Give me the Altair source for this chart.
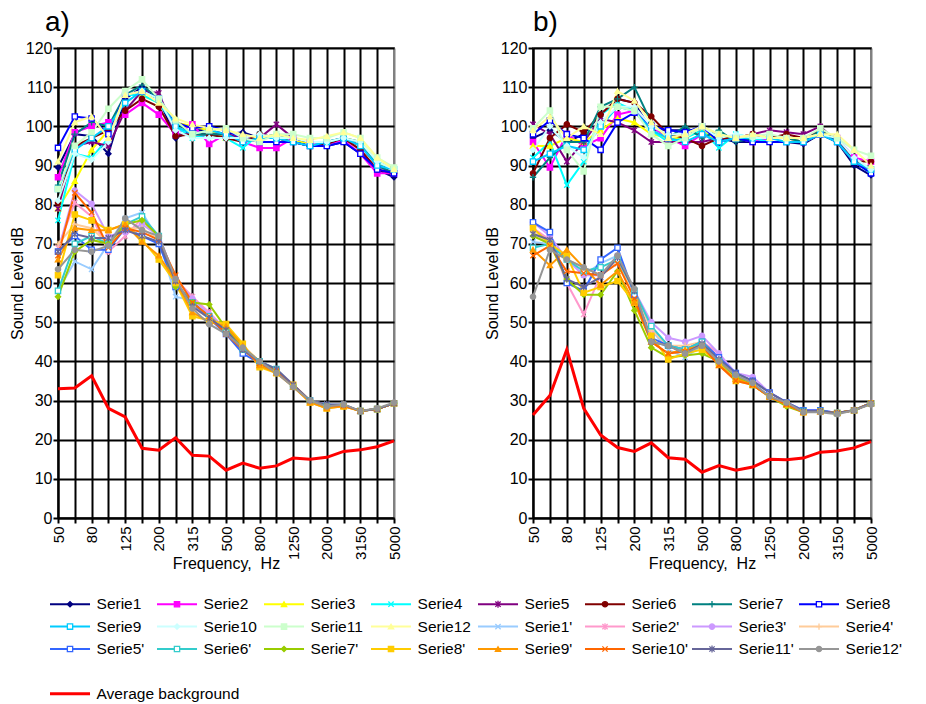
import altair as alt
import pandas as pd

FREQ_LABELS = ["50", "63", "80", "100", "125", "160", "200", "250", "315", "400", "500",
               "630", "800", "1000", "1250", "1600", "2000", "2500", "3150", "4000", "5000"]

SERIES = ["Serie1", "Serie2", "Serie3", "Serie4", "Serie5", "Serie6", "Serie7", "Serie8",
          "Serie9", "Serie10", "Serie11", "Serie12",
          "Serie1'", "Serie2'", "Serie3'", "Serie4'", "Serie5'", "Serie6'", "Serie7'", "Serie8'",
          "Serie9'", "Serie10'", "Serie11'", "Serie12'"]
BG_NAME = "Average background"

COLORS = ["#000080", "#FF00FF", "#FFFF00", "#00FFFF", "#800080", "#800000", "#008080", "#0000FF",
          "#00CCFF", "#CCFFFF", "#CCFFCC", "#FFFF99",
          "#99CCFF", "#FF99CC", "#CC99FF", "#FFCC99", "#3366FF", "#33CCCC", "#99CC00", "#FFCC00",
          "#FF9900", "#FF6600", "#666699", "#969696"]
BG_COLOR = "#FF0000"

XPATH = "M-1,-1L1,1M-1,1L1,-1"
ASTER = "M-1,-1L1,1M-1,1L1,-1M0,-1.3L0,1.3"
PLUS = "M-1.2,0L1.2,0M0,-1.2L0,1.2"
SHAPES = ["diamond", "square", "triangle-up", XPATH, ASTER, "circle", PLUS, "square",
          "square", "diamond", "square", "triangle-up",
          XPATH, ASTER, "circle", PLUS, "square", "square", "diamond", "square",
          "triangle-up", XPATH, ASTER, "circle"]
OPEN = {"Serie8", "Serie9", "Serie5'", "Serie6'"}
FILLS = ["#FFFFFF" if s in OPEN else c for s, c in zip(SERIES, COLORS)]

# ---------------- panel a) ----------------
A_UPPER = {
    "Serie1":  [89.5, 98, 97.5, 93, 107, 110, 107, 97, 99, 99, 98, 98.5, 97, 97, 96, 95, 95, 96, 93, 89, 87],
    "Serie2":  [87, 98.5, 100, 101, 103, 106, 103, 98, 100.5, 95.5, 98, 96, 94.5, 94.5, 97, 96, 95.5, 96.5, 93, 88, 88],
    "Serie3":  [79, 86, 94, 99, 108, 108, 106, 101, 100, 99, 97, 97, 96, 96, 96, 96, 96, 97, 96, 91, 89],
    "Serie4":  [76, 93, 92, 97, 108, 108, 106, 100, 97, 98, 97, 94.5, 98, 97, 96, 95, 96, 97, 95, 91, 89],
    "Serie5":  [79, 95, 96, 95, 104, 109, 108.5, 98, 98, 98, 98, 97, 97, 100.5, 97, 96, 96, 97, 95, 90, 88],
    "Serie6":  [80.5, 95, 97, 99, 104, 107, 105, 97.5, 98, 98, 97, 96, 98, 97, 96, 95, 95.5, 97, 94, 89, 88],
    "Serie7":  [85, 98, 101, 100, 108, 110.5, 107, 101, 98, 98, 98, 96, 97, 98, 97, 96, 96, 97, 96, 90, 88],
    "Serie8":  [94.5, 102.5, 102, 98, 108, 109, 107, 101, 99.5, 100, 99, 97, 96, 96, 96, 95, 95, 96, 93, 89, 88],
    "Serie9":  [84, 94, 97, 100, 106, 109, 107, 100, 98, 99, 98, 96, 97, 97, 96, 95, 96, 97, 95, 90, 89],
    "Serie10": [81, 93, 91.5, 96, 108, 109, 107, 99, 97, 97, 97, 97, 98, 97, 97, 96, 96, 97, 96, 91, 89],
    "Serie11": [84, 95, 98.5, 104.5, 109, 112, 107, 101.5, 98, 99, 99.5, 97, 96, 98, 98, 97, 97, 98.5, 97, 92, 89.5],
    "Serie12": [91, 101, 102.5, 97, 108, 109, 106, 102, 100.5, 99.5, 99, 98, 97, 98, 97, 96.5, 97.5, 98.5, 97, 92, 89],
}
A_LOWER = {
    "Serie1'":  [58, 65.5, 63.5, 70, 76.5, 78, 71, 56.5, 55.5, 51, 48, 43, 39.5, 37.5, 33.5, 30, 29, 29, 27.3, 27.8, 29.3],
    "Serie2'":  [69, 80.5, 77, 68, 72, 76.5, 72, 61, 56.5, 52.5, 48, 43.5, 40, 37.5, 33.5, 30, 28.5, 28.8, 27.3, 27.8, 29.3],
    "Serie3'":  [68, 83.6, 80.2, 72, 73, 75, 72, 61, 56, 52, 48, 43.5, 40, 38, 33.5, 30, 28.5, 28.8, 27.3, 27.8, 29.3],
    "Serie4'":  [70, 75, 74, 70, 74, 74, 71, 61, 54, 51, 48, 44, 40, 37.5, 33.5, 30, 28.5, 28.8, 27.3, 27.8, 29.3],
    "Serie5'":  [68, 72, 68.5, 68.5, 74, 72, 70, 59, 55, 51, 47, 42, 39.5, 37.5, 33.5, 30, 28.5, 28.8, 27.3, 27.8, 29.3],
    "Serie6'":  [58, 70, 72, 70, 75, 77, 72, 60, 55, 51.5, 48, 43, 40, 38, 33.5, 30, 28.5, 28.8, 27.3, 27.8, 29.3],
    "Serie7'":  [56.5, 68, 71, 70, 75, 76, 72, 59, 55, 54.5, 48.5, 43.5, 40, 37.5, 33.5, 30, 28.5, 28.8, 27.3, 27.8, 29.3],
    "Serie8'":  [62, 77.5, 76, 73.5, 75, 71, 66, 60, 51.5, 50.5, 49.5, 44.5, 38.5, 37, 34, 29.5, 28, 28.5, 27.3, 27.8, 29.3],
    "Serie9'":  [66, 74, 73.5, 73.5, 75, 70.5, 67, 60.5, 52.5, 50, 49, 44, 39, 37, 33.5, 29.5, 28, 28.5, 27.3, 27.8, 29.3],
    "Serie10'": [67, 83, 78, 69, 74, 73, 71, 62, 55, 51.5, 47, 43, 39.5, 37.5, 34, 30, 28.5, 28.8, 27.3, 27.8, 29.3],
    "Serie11'": [68, 72.5, 71.5, 71.5, 73.5, 72, 70.5, 60.5, 54, 51, 48, 43, 40, 38, 34, 30, 29, 29, 27.3, 27.8, 29.3],
    "Serie12'": [63.5, 68.5, 68, 69.5, 76.5, 73.5, 72, 61, 53.5, 49.5, 47, 43.5, 40, 37, 33.5, 30, 28.5, 29, 27.3, 28, 29.5],
}
A_BG = [33, 33.2, 36.3, 28, 25.8, 17.8, 17.3, 20.5, 16, 15.8, 12.2, 14, 12.7, 13.3, 15.3, 15, 15.5, 17, 17.4, 18.2, 19.7]

# ---------------- panel b) ----------------
B_UPPER = {
    "Serie1":  [97, 99, 96, 98, 103, 107, 106, 99, 99, 99, 98, 97, 96, 96, 96, 96, 95.5, 98, 96, 90, 87.5],
    "Serie2":  [96, 89.5, 98, 95, 97, 103, 104, 100, 97, 95, 98, 96, 97, 96, 97, 97, 96, 98, 97, 92, 91],
    "Serie3":  [95, 95, 97, 96, 99, 102, 101, 98, 97, 97, 99, 96, 97, 97, 97, 97, 96, 98, 96, 91, 89],
    "Serie4":  [92, 96, 85, 91, 103, 106, 104, 99, 96, 97, 99, 94.5, 98, 97, 96, 96, 96, 98, 96, 91, 88],
    "Serie5":  [100.5, 98, 91, 96, 102, 101, 99, 96, 96, 96, 96, 97, 97, 98, 99, 98.5, 98, 100, 96, 91, 89],
    "Serie6":  [88, 97, 100.5, 98.5, 103, 107, 106, 102.5, 98, 97, 95, 97, 97, 98, 97, 98, 97, 99, 97, 91, 91],
    "Serie7":  [87, 92, 96, 96, 105, 107, 110, 101, 97, 100, 97, 99, 96, 97, 97, 97, 96, 99, 96, 91, 89],
    "Serie8":  [98, 101.5, 98, 97, 94, 101, 103.5, 100, 99, 98.5, 100, 96, 97, 96, 96, 96, 96, 98, 96, 91, 88],
    "Serie9":  [91, 93, 95, 94, 100, 105, 104, 99, 97, 96, 98, 96, 97, 97, 97, 96, 96, 98, 96, 91, 89],
    "Serie10": [94, 100, 95, 92, 101, 105, 105, 100, 98, 98, 100, 97, 98, 97, 97, 97, 97, 98, 97, 92, 89],
    "Serie11": [99.5, 104, 94, 88.5, 105, 105, 104, 98, 95, 97, 100, 98, 97, 97.5, 98, 97, 97, 99.5, 97, 94, 92.5],
    "Serie12": [99, 102.5, 97, 100, 98, 109, 106.5, 101, 97, 98, 100, 98, 97, 98, 97, 97, 97, 98, 98, 94, 90],
}
B_LOWER = {
    "Serie1'":  [70.5, 70, 66, 62, 65, 67, 57, 48, 43, 41, 44, 41, 36, 34, 31, 29, 27.5, 27.3, 26.8, 27.5, 29.3],
    "Serie2'":  [74, 71, 60, 52, 62, 66, 57, 48, 44, 43, 45, 42, 36, 34, 31, 29, 27.5, 27.3, 26.8, 27.5, 29.3],
    "Serie3'":  [75.5, 72, 66, 62, 62, 67, 58, 50, 46, 45, 46.5, 42, 37, 36, 32, 29.5, 27.5, 27.5, 26.8, 27.5, 29.3],
    "Serie4'":  [73, 70, 66, 64, 62, 66, 57, 48, 44, 44, 45, 41, 36, 34, 31, 29, 27.3, 27.3, 26.8, 27.5, 29.3],
    "Serie5'":  [75.5, 73, 60, 58, 66, 69, 57, 46, 44, 43, 45, 41, 37, 35, 32, 29.5, 27.5, 27.5, 26.8, 27.5, 29.3],
    "Serie6'":  [69, 70, 66, 63, 64, 66, 58, 49, 44, 43, 45, 40, 36, 34, 31, 29, 27.3, 27.3, 26.8, 27.5, 29.3],
    "Serie7'":  [72, 70, 61, 57, 57, 63, 53, 43.5, 41, 41.5, 42, 40, 36, 34, 31, 28.5, 27, 27.2, 26.8, 27.5, 29.3],
    "Serie8'":  [74, 70, 67, 57.5, 59, 60.5, 55, 46.5, 40.5, 42, 43, 39.5, 35, 34, 31, 29, 27, 27.2, 26.8, 27.5, 29.3],
    "Serie9'":  [68.5, 64.5, 68.5, 64, 59.5, 63, 55, 45, 42, 43, 44, 39, 35.5, 34, 31, 29, 27, 27.2, 26.8, 27.5, 29.3],
    "Serie10'": [67, 69.5, 63, 62.5, 62, 65, 56, 45, 42, 42.5, 44, 39, 35, 34, 31, 29, 27, 27.2, 26.8, 27.5, 29.3],
    "Serie11'": [72.5, 71, 61, 59, 61.5, 66.5, 58, 45, 44, 42, 44.5, 40.5, 37, 35, 32, 29.5, 27.3, 27.3, 26.8, 27.5, 29.3],
    "Serie12'": [56.5, 68.5, 66, 64, 62, 67, 58.5, 45, 44, 42, 44, 40, 36.5, 34.5, 31, 29.5, 27, 27, 26.5, 27.5, 29],
}
B_BG = [26.3, 31.3, 43, 28, 21.2, 18, 17, 19.2, 15.4, 15, 11.7, 13.4, 12.2, 13, 15, 14.9, 15.3, 16.8, 17.1, 17.9, 19.5]

FONT = "Liberation Sans"
LABEL_JS = "[" + ",".join("'%s'" % f for f in FREQ_LABELS) + "]"


def make_panel(label, upper, lower, bg, width, title_dx):
    rows = []
    for name in SERIES:
        vals = upper[name] if name in upper else lower[name]
        for i, v in enumerate(vals):
            rows.append({"series": name, "idx": i, "value": v})
    df = pd.DataFrame(rows)
    bg_df = pd.DataFrame({"idx": list(range(len(bg))), "value": bg})

    x_axis = alt.Axis(
        values=list(range(21)),
        labelExpr="datum.value % 2 == 0 ? " + LABEL_JS + "[datum.value] : ''",
        labelAngle=270, labelFontSize=15, labelColor="black", labelFlush=False,
        labelOverlap=False, labelPadding=3,
        tickSize=5, tickColor="black", tickWidth=2,
        domainColor="black", domainWidth=2,
        grid=True, gridWidth=2,
        gridColor={"condition": {"test": "datum.value == 20", "value": "#808080"}, "value": "black"},
        title="Frequency,\u00a0 Hz", titleFontSize=16, titleFontWeight="normal",
        titleColor="black", titlePadding=-4,
    )
    y_axis = alt.Axis(
        values=list(range(0, 121, 10)), labelFontSize=16, labelColor="black", labelPadding=1,
        tickSize=5, tickColor="black", tickWidth=2,
        domainColor="black", domainWidth=2,
        grid=True, gridColor="black", gridWidth=2,
        title="Sound Level dB", titleFontSize=16, titleFontWeight="normal",
        titleColor="black", titlePadding=0,
    )
    x = alt.X("idx:Q", scale=alt.Scale(domain=[0, 20], nice=False, zero=False), axis=x_axis)
    y = alt.Y("value:Q", scale=alt.Scale(domain=[0, 120], nice=False), axis=y_axis)
    stroke = alt.Stroke("series:N", scale=alt.Scale(domain=SERIES, range=COLORS), legend=None)

    lines = alt.Chart(df).mark_line(strokeWidth=2).encode(x=x, y=y, stroke=stroke, detail="series:N")
    pts = alt.Chart(df).mark_point(size=28, strokeWidth=1.3, opacity=1).encode(
        x=x, y=y, stroke=stroke,
        fill=alt.Fill("series:N", scale=alt.Scale(domain=SERIES, range=FILLS), legend=None),
        shape=alt.Shape("series:N", scale=alt.Scale(domain=SERIES, range=SHAPES), legend=None),
    )
    bgl = alt.Chart(bg_df).mark_line(color=BG_COLOR, strokeWidth=3).encode(x=x, y=y)
    return alt.layer(lines, pts, bgl).properties(
        width=width, height=470,
        view=alt.ViewBackground(stroke="#808080", strokeWidth=2),
        title=alt.Title(label, anchor="start", frame="group", fontSize=28, fontWeight="normal",
                        offset=3, dx=title_dx, color="black", font=FONT),
    )


panel_a = make_panel("a)", A_UPPER, A_LOWER, A_BG, 336, -13)
panel_b = make_panel("b)", B_UPPER, B_LOWER, B_BG, 338, 0)

# ---------------- legend ----------------
leg_names = SERIES + [BG_NAME]
leg_rows = []
for i, name in enumerate(leg_names):
    if name == BG_NAME:
        col, row = 0, 4
    else:
        col, row = i % 8, i // 8
    leg_rows.append({"name": name, "col": col, "row": row, "bg": name == BG_NAME})
leg_df = pd.DataFrame(leg_rows)

COL_W = 107.0
LEG_W = 850
lo = 8.0 / COL_W
lx = alt.Scale(domain=[lo, lo + LEG_W / COL_W], nice=False, zero=False)
ly = alt.Scale(domain=[-0.5, 4.5], nice=False, zero=False, reverse=True)
leg_stroke = alt.Stroke("name:N", scale=alt.Scale(domain=leg_names, range=COLORS + [BG_COLOR]), legend=None)
leg_base = alt.Chart(leg_df).transform_calculate(
    x2="datum.col + 0.374", mid="datum.col + 0.187", tx="datum.col + 0.435"
)
leg_lines = leg_base.mark_rule().encode(
    x=alt.X("col:Q", scale=lx, axis=None), x2="x2:Q",
    y=alt.Y("row:Q", scale=ly, axis=None),
    stroke=leg_stroke,
    strokeWidth=alt.condition("datum.bg", alt.value(3), alt.value(2)),
)
leg_pts = leg_base.transform_filter("!datum.bg").mark_point(size=28, strokeWidth=1.3, opacity=1).encode(
    x=alt.X("mid:Q", scale=lx, axis=None), y=alt.Y("row:Q", scale=ly, axis=None),
    stroke=leg_stroke,
    fill=alt.Fill("name:N", scale=alt.Scale(domain=SERIES, range=FILLS), legend=None),
    shape=alt.Shape("name:N", scale=alt.Scale(domain=SERIES, range=SHAPES), legend=None),
)
leg_text = leg_base.mark_text(align="left", baseline="middle", fontSize=15.5, color="black", font=FONT).encode(
    x=alt.X("tx:Q", scale=lx, axis=None), y=alt.Y("row:Q", scale=ly, axis=None), text="name:N"
)
legend = alt.layer(leg_lines, leg_pts, leg_text).properties(
    width=LEG_W, height=112, view=alt.ViewBackground(strokeWidth=0)
).resolve_scale(stroke="independent", fill="independent", shape="independent")

top = alt.hconcat(panel_a, panel_b, spacing=80)
chart = alt.vconcat(top, legend, spacing=20).properties(padding=0).configure(
    font=FONT
).configure_view(strokeWidth=0)

chart.save("out.html", embed_options={"renderer": "svg", "actions": False})
